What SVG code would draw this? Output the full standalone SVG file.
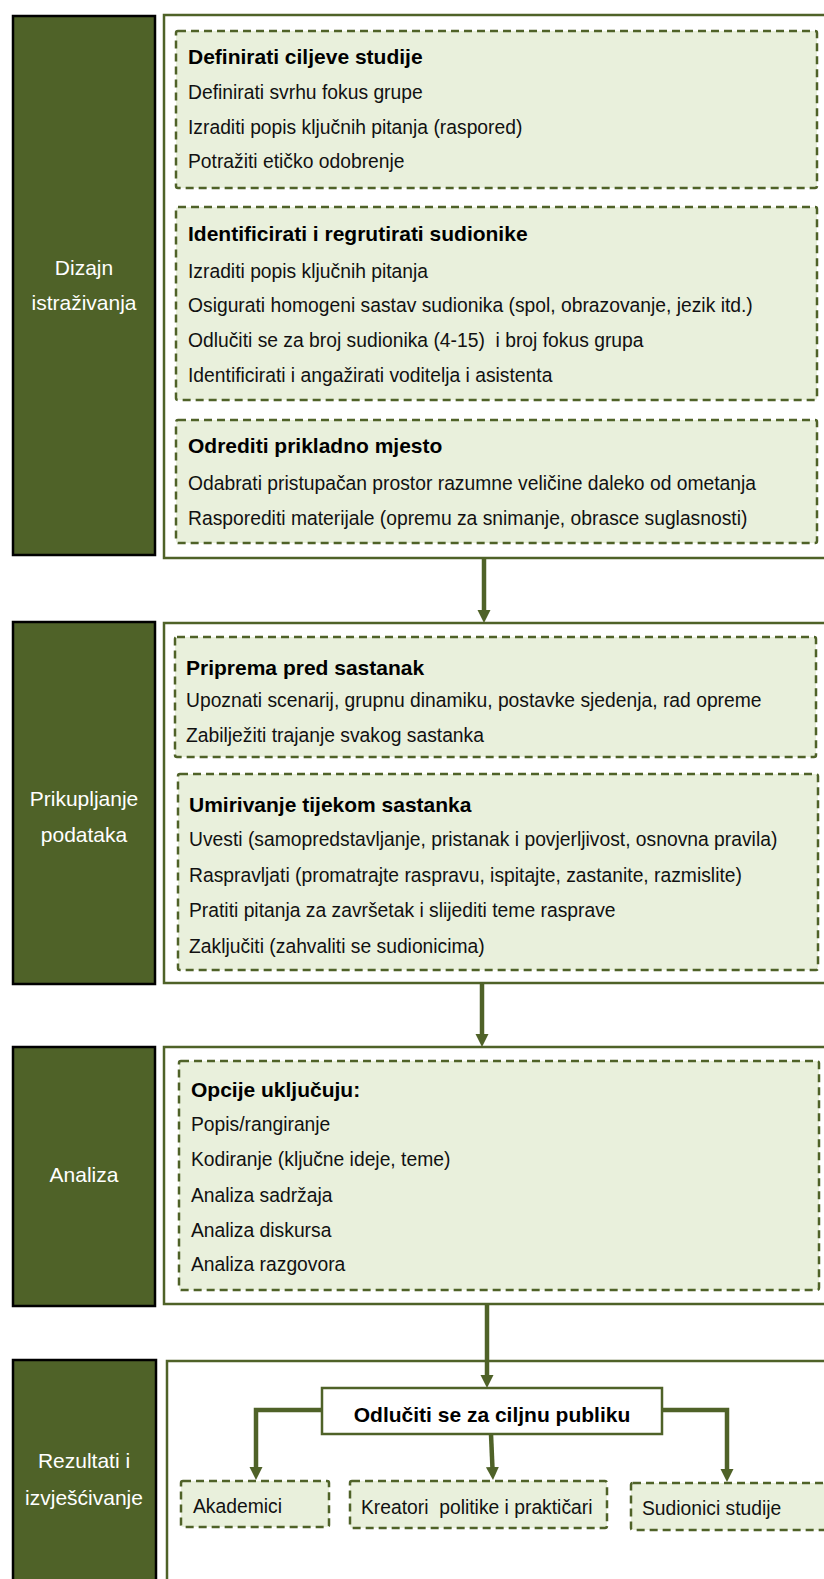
<svg xmlns="http://www.w3.org/2000/svg" width="824" height="1579" viewBox="0 0 824 1579">
<defs>
<marker id="ah" markerUnits="userSpaceOnUse" markerWidth="13" markerHeight="14" refX="4" refY="7" orient="auto">
<path d="M0,0.5 L13,7 L0,13.5 z" fill="#4F6228"/>
</marker>
<style>
.phase{fill:#4F6228;stroke:#000;stroke-width:2.5}
.panel{fill:#fff;stroke:#4F6228;stroke-width:2.5}
.box{fill:#E9F0DC;stroke:#4F6228;stroke-width:2.5;stroke-dasharray:8 5}
.tbox{fill:#fff;stroke:#4F6228;stroke-width:2.5}
.lbl{font-family:"Liberation Sans",Arial,sans-serif;font-size:21px;fill:#fff;text-anchor:middle}
.h{font-family:"Liberation Sans",Arial,sans-serif;font-size:21px;font-weight:bold;fill:#000}
.t{font-family:"Liberation Sans",Arial,sans-serif;font-size:19.3px;fill:#111;white-space:pre}
.c{fill:none;stroke:#4F6228;stroke-width:4.5}
</style>
</defs>

<g id="phase1">
<rect class="phase" x="13" y="16" width="142" height="539"/>
<text class="lbl" x="84" y="275">Dizajn</text>
<text class="lbl" x="84" y="310">istraživanja</text>
</g>
<g id="panel1">
<rect class="panel" x="164" y="15" width="670" height="543"/>
</g>
<g id="box1a">
<rect class="box" x="176" y="31" width="641" height="157" rx="2"/>
<text class="h" x="188" y="64">Definirati ciljeve studije</text>
<text class="t" x="188" y="99">Definirati svrhu fokus grupe</text>
<text class="t" x="188" y="134">Izraditi popis ključnih pitanja (raspored)</text>
<text class="t" x="188" y="168">Potražiti etičko odobrenje</text>
</g>
<g id="box1b">
<rect class="box" x="176" y="207" width="641" height="193" rx="2"/>
<text class="h" x="188" y="241">Identificirati i regrutirati sudionike</text>
<text class="t" x="188" y="278">Izraditi popis ključnih pitanja</text>
<text class="t" x="188" y="312">Osigurati homogeni sastav sudionika (spol, obrazovanje, jezik itd.)</text>
<text class="t" x="188" y="347" xml:space="preserve">Odlučiti se za broj sudionika (4-15)  i broj fokus grupa</text>
<text class="t" x="188" y="382">Identificirati i angažirati voditelja i asistenta</text>
</g>
<g id="box1c">
<rect class="box" x="176" y="420" width="641" height="123" rx="2"/>
<text class="h" x="188" y="453">Odrediti prikladno mjesto</text>
<text class="t" x="188" y="490">Odabrati pristupačan prostor razumne veličine daleko od ometanja</text>
<text class="t" x="188" y="525">Rasporediti materijale (opremu za snimanje, obrasce suglasnosti)</text>
</g>

<g id="phase2">
<rect class="phase" x="13" y="622" width="142" height="362"/>
<text class="lbl" x="84" y="806">Prikupljanje</text>
<text class="lbl" x="84" y="842">podataka</text>
</g>
<g id="panel2">
<rect class="panel" x="164" y="623" width="670" height="360"/>
</g>
<g id="box2a">
<rect class="box" x="175" y="637" width="641" height="120" rx="2"/>
<text class="h" x="186" y="675">Priprema pred sastanak</text>
<text class="t" x="186" y="707">Upoznati scenarij, grupnu dinamiku, postavke sjedenja, rad opreme</text>
<text class="t" x="186" y="742">Zabilježiti trajanje svakog sastanka</text>
</g>
<g id="box2b">
<rect class="box" x="178" y="774" width="640" height="196" rx="2"/>
<text class="h" x="189" y="812">Umirivanje tijekom sastanka</text>
<text class="t" x="189" y="846">Uvesti (samopredstavljanje, pristanak i povjerljivost, osnovna pravila)</text>
<text class="t" x="189" y="882">Raspravljati (promatrajte raspravu, ispitajte, zastanite, razmislite)</text>
<text class="t" x="189" y="917">Pratiti pitanja za završetak i slijediti teme rasprave</text>
<text class="t" x="189" y="953">Zaključiti (zahvaliti se sudionicima)</text>
</g>

<g id="phase3">
<rect class="phase" x="13" y="1047" width="142" height="259"/>
<text class="lbl" x="84" y="1182">Analiza</text>
</g>
<g id="panel3">
<rect class="panel" x="164" y="1047" width="670" height="257"/>
</g>
<g id="box3">
<rect class="box" x="179" y="1061" width="640" height="229" rx="2"/>
<text class="h" x="191" y="1097">Opcije uključuju:</text>
<text class="t" x="191" y="1131">Popis/rangiranje</text>
<text class="t" x="191" y="1166">Kodiranje (ključne ideje, teme)</text>
<text class="t" x="191" y="1202">Analiza sadržaja</text>
<text class="t" x="191" y="1237">Analiza diskursa</text>
<text class="t" x="191" y="1271">Analiza razgovora</text>
</g>

<g id="phase4">
<rect class="phase" x="13" y="1360" width="143" height="240"/>
<text class="lbl" x="84" y="1468">Rezultati i</text>
<text class="lbl" x="84" y="1505">izvješćivanje</text>
</g>
<g id="panel4">
<rect class="panel" x="167" y="1361" width="670" height="240"/>
</g>
<g id="audience">
<rect class="tbox" x="322" y="1388" width="340" height="46"/>
<text class="h" x="492" y="1422" text-anchor="middle">Odlučiti se za ciljnu publiku</text>
</g>
<g id="akademici">
<rect class="box" x="181" y="1481" width="148" height="46" rx="2"/>
<text class="t" x="193" y="1513">Akademici</text>
</g>
<g id="kreatori">
<rect class="box" x="350" y="1481" width="257" height="47" rx="2"/>
<text class="t" x="361" y="1514" xml:space="preserve">Kreatori  politike i praktičari</text>
</g>
<g id="sudionici">
<rect class="box" x="631" y="1483" width="200" height="47" rx="2"/>
<text class="t" x="642" y="1515">Sudionici studije</text>
</g>

<g id="connectors">
<path class="c" d="M484,558 V614" marker-end="url(#ah)"/>
<path class="c" d="M482,983 V1038" marker-end="url(#ah)"/>
<path class="c" d="M487,1303 V1379" marker-end="url(#ah)"/>
<path class="c" d="M322,1410 H256 V1471" marker-end="url(#ah)"/>
<path class="c" d="M491,1434 L492.6,1471" marker-end="url(#ah)"/>
<path class="c" d="M662,1410 H727 V1473" marker-end="url(#ah)"/>
</g>
</svg>
